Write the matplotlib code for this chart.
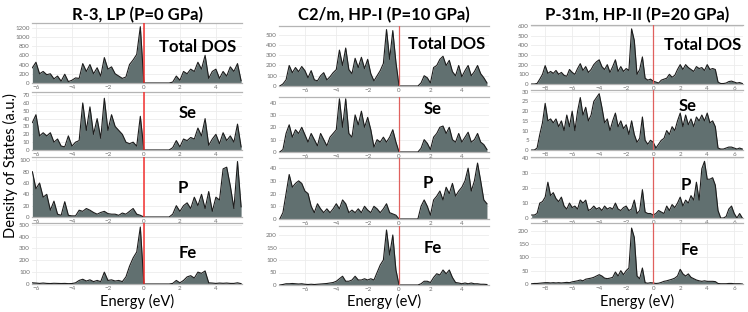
import numpy as np
import matplotlib
matplotlib.use("Agg")
import matplotlib.pyplot as plt

plt.rcParams['font.family'] = ['Lato', 'DejaVu Sans']

# energy grids (eV), one per structure
energy_lp = np.round(np.linspace(-6.2, 5.4, 59), 2)
energy_hp1 = np.round(np.linspace(-7.6, 5.6, 67), 2)
energy_hp2 = np.round(np.linspace(-9.0, 6.6, 79), 2)

# R-3, LP (P=0 GPa)
lp_total = [330, 450, 200, 250, 180, 200, 90, 150, 40, 190, 30, 60, 110, 100, 420, 250,
            400, 200, 330, 150, 550, 300, 350, 200, 150, 100, 130, 400, 500, 620, 1220, 0,
            0, 0, 0, 0, 0, 0, 0,
            20, 150, 60, 250, 200, 300, 250, 450, 300, 600, 100, 250, 300, 100, 250, 150,
            350, 250, 420, 50]
lp_se = [35, 45, 18, 22, 18, 22, 10, 14, 5, 4, 18, 5, 10, 12, 60, 25,
         55, 20, 40, 15, 66, 25, 45, 30, 25, 20, 10, 8, 10, 5, 43, 0,
         0, 0, 0, 0, 0, 0, 0,
         3, 12, 4, 14, 12, 16, 14, 28, 18, 40, 6, 14, 20, 8, 22, 12, 18, 10, 33, 4]
lp_p = [80, 50, 60, 35, 40, 12, 28, 5, 3, 27, 3, 2, 2, 12, 10, 15,
        12, 8, 5, 8, 10, 6, 5, 5, 3, 7, 5, 10, 15, 5, 3, 0,
        0, 0, 0, 0, 0, 0, 0,
        5, 20, 10, 20, 25, 15, 35, 20, 40, 15, 45, 10, 35, 30, 85, 88, 55, 15, 98, 18]
lp_fe = [10, 8, 5, 8, 5, 4, 6, 5, 4, 5, 3, 4, 10, 30, 40, 25,
         35, 20, 30, 20, 100, 30, 35, 25, 30, 20, 60, 150, 220, 270, 480, 0,
         0, 0, 0, 0, 0, 0, 0,
         5, 30, 10, 30, 60, 70, 50, 100, 90, 110, 10, 8, 5, 8, 6, 8, 5, 5, 10, 3]

# C2/m, HP-I (P=10 GPa)
hp1_total = [0, 20, 60, 200, 130, 180, 140, 190, 150, 80, 150, 60, 50, 100, 130, 60,
             90, 130, 160, 350, 200, 370, 160, 120, 270, 180, 280, 170, 260, 120, 50, 100,
             150, 220, 550, 260, 540, 230, 0,
             0, 0, 0, 0, 0, 0,
             30, 100, 80, 30, 180, 200, 260, 290, 200, 250, 140, 100, 200, 90, 150, 200,
             100, 140, 200, 120, 80, 30]
hp1_se = [0, 2, 15, 22, 12, 18, 15, 20, 14, 8, 15, 10, 5, 15, 10, 5,
          12, 15, 18, 43, 20, 43, 15, 12, 30, 22, 33, 20, 28, 18, 4, 10,
          8, 12, 8, 12, 18, 8, 0,
          0, 0, 0, 0, 0, 0,
          3, 10, 7, 2, 12, 15, 20, 21, 15, 20, 10, 8, 15, 8, 12, 16, 8, 10, 15, 8, 6, 2]
hp1_p = [0, 5, 20, 35, 25, 28, 30, 28, 22, 20, 10, 5, 12, 8, 5, 8,
         5, 8, 12, 8, 15, 12, 5, 7, 5, 8, 5, 10, 7, 5, 10, 8,
         5, 8, 12, 5, 4, 3, 0,
         0, 0, 0, 0, 0, 0,
         10, 15, 10, 3, 15, 18, 22, 15, 25, 20, 28, 18, 22, 25, 30, 40, 22, 30, 44, 30, 15, 12]
hp1_fe = [0, 2, 5, 5, 6, 5, 4, 5, 3, 2, 3, 2, 3, 4, 5, 6,
          8, 10, 15, 25, 35, 15, 15, 20, 35, 20, 20, 25, 20, 25, 20, 50,
          80, 100, 220, 120, 200, 60, 0,
          0, 0, 0, 0, 0, 0,
          5, 15, 15, 10, 30, 45, 40, 60, 45, 60, 30, 10, 8, 5, 8, 5, 8, 5, 5, 3, 3, 2]

# P-31m, HP-II (P=20 GPa)
hp2_total = [0, 0, 5, 50, 100, 190, 110, 130, 110, 140, 100, 120, 90, 80, 150, 120,
             100, 160, 210, 140, 180, 120, 150, 200, 230, 250, 180, 150, 200, 120, 180, 250,
             130, 180, 130, 160, 140, 570, 450, 100, 150, 280, 60, 40, 50, 30,
             20, 10, 40, 50, 60, 100, 70, 90, 150, 200, 150, 200, 170, 150, 130, 180,
             160, 170, 140, 200, 150, 160, 150, 20, 5, 5, 10, 25, 30, 20, 10, 15, 5]
hp2_se = [0, 0, 1, 8, 14, 24, 15, 16, 14, 16, 12, 15, 10, 18, 12, 20,
          10, 20, 27, 18, 22, 15, 18, 25, 27, 29, 22, 14, 16, 10, 15, 19,
          12, 15, 11, 13, 8, 15, 8, 4, 6, 17, 5, 3, 5, 4,
          1, 3, 5, 6, 10, 8, 12, 10, 15, 19, 12, 18, 13, 16, 12, 17,
          15, 18, 15, 19, 14, 15, 12, 1, 0.5, 0.5, 1, 1.5, 1.5, 1, 0.5, 1, 0.5]
hp2_p = [2, 2, 3, 10, 11, 14, 24, 15, 17, 13, 11, 14, 8, 6, 10, 7,
         8, 6, 12, 10, 12, 5, 6, 8, 6, 7, 5, 8, 6, 7, 6, 10,
         6, 5, 7, 8, 5, 6, 12, 3, 5, 19, 4, 3, 3, 2,
         3, 5, 4, 3, 8, 5, 9, 7, 10, 14, 8, 12, 10, 15, 12, 24,
         12, 33, 38, 26, 26, 27, 22, 5, 0, 0, 1, 6, 8, 3, 0, 3, 0]
hp2_fe = [1, 2, 2, 3, 4, 5, 5, 4, 5, 4, 5, 4, 5, 6, 5, 8,
          10, 12, 15, 12, 18, 20, 22, 25, 30, 35, 30, 22, 20, 22, 25, 45,
          30, 50, 35, 50, 60, 210, 175, 30, 20, 60, 5, 3, 5, 4,
          2, 3, 6, 10, 12, 15, 18, 22, 30, 55, 38, 30, 38, 25, 20, 15,
          12, 10, 12, 10, 10, 10, 9, 2, 1, 1, 1, 2, 2, 1, 1, 1, 0]

titles = ["R-3, LP (P=0 GPa)", "C2/m, HP-I (P=10 GPa)", "P-31m, HP-II (P=20 GPa)"]
labels = ["Total DOS", "Se", "P", "Fe"]

W, H = 748, 312
fig = plt.figure(figsize=(W / 100, H / 100), dpi=100)

def px_axes(left, right, top, bottom):
    return fig.add_axes([left / W, 1 - bottom / H, (right - left) / W, (bottom - top) / H])

columns = [
    dict(x=(32, 242), rows=[(23, 83), (92, 150), (157, 217), (223, 284)],
         energy=energy_lp, data=[lp_total, lp_se, lp_p, lp_fe],
         xlim=(-6.22, 5.45), xticks=[-6, -4, -2, 0, 2, 4],
         ylims=[1300, 74, 106, 514], ysteps=[200, 10, 20, 100],
         red='#f2302f', redw=1.1,
         lab_pos=[(0.79, 0.6), (0.74, 0.64), (0.72, 0.48), (0.74, 0.5)]),
    dict(x=(279, 489), rows=[(26, 86), (97, 152), (158, 219), (226, 285)],
         energy=energy_hp1, data=[hp1_total, hp1_se, hp1_p, hp1_fe],
         xlim=(-7.65, 5.73), xticks=[-6, -4, -2, 0, 2, 4],
         ylims=[585, 44.5, 48, 236], ysteps=[100, 10, 10, 50],
         red='#e0605e', redw=0.9,
         lab_pos=[(0.8, 0.7), (0.73, 0.78), (0.71, 0.59), (0.73, 0.63)]),
    dict(x=(531, 743), rows=[(25, 84), (90, 150), (157, 218), (223, 284)],
         energy=energy_hp2, data=[hp2_total, hp2_se, hp2_p, hp2_fe],
         xlim=(-9.05, 6.65), xticks=[-8, -6, -4, -2, 0, 2, 4, 6],
         ylims=[610, 30.9, 40.9, 229], ysteps=[100, 5, 10, 50],
         red='#e0605e', redw=0.9,
         lab_pos=[(0.81, 0.66), (0.74, 0.73), (0.73, 0.54), (0.75, 0.56)]),
]

fill_color = '#617070'
for ci, col in enumerate(columns):
    for ri in range(4):
        top, bottom = col['rows'][ri]
        ax = px_axes(col['x'][0], col['x'][1], top, bottom)
        vals = np.array(col['data'][ri], dtype=float)
        ax.fill_between(col['energy'], vals, 0, color=fill_color, lw=0, zorder=2)
        ax.plot(col['energy'], vals, color='#1c1c1c', lw=0.8, zorder=3)
        ax.axvline(0, color=col['red'], lw=col['redw'], zorder=4)
        ax.set_xlim(*col['xlim'])
        ax.set_ylim(0, col['ylims'][ri])
        ax.set_xticks(col['xticks'])
        ax.set_yticks(np.arange(0, col['ylims'][ri] + 0.01, col['ysteps'][ri]))
        ax.grid(True, color='#ececec', lw=0.6, zorder=0)
        ax.set_axisbelow(True)
        ax.tick_params(length=0, labelsize=4.5, labelcolor='#707070', pad=1.5)
        for s in ['left', 'right']:
            ax.spines[s].set_visible(False)
        for s in ['top', 'bottom']:
            ax.spines[s].set_color('#b4b4b4')
            ax.spines[s].set_linewidth(0.9)
        lx, ly = col['lab_pos'][ri]
        ax.text(lx, ly, labels[ri], transform=ax.transAxes, ha='center', va='center',
                fontsize=12, fontweight='bold', color='black', zorder=5)
    cx = (col['x'][0] + col['x'][1]) / 2
    fig.text(cx / W, 1 - 15 / H, titles[ci], ha='center', va='center',
             fontsize=12, fontweight='bold')
    fig.text(cx / W, 1 - 301 / H, "Energy (eV)", ha='center', va='center', fontsize=10.5)

fig.text(10 / W, 1 - 166 / H, "Density of States (a.u.)", rotation=90,
         ha='center', va='center', fontsize=10.5)

fig.savefig("out.png", dpi=100)
